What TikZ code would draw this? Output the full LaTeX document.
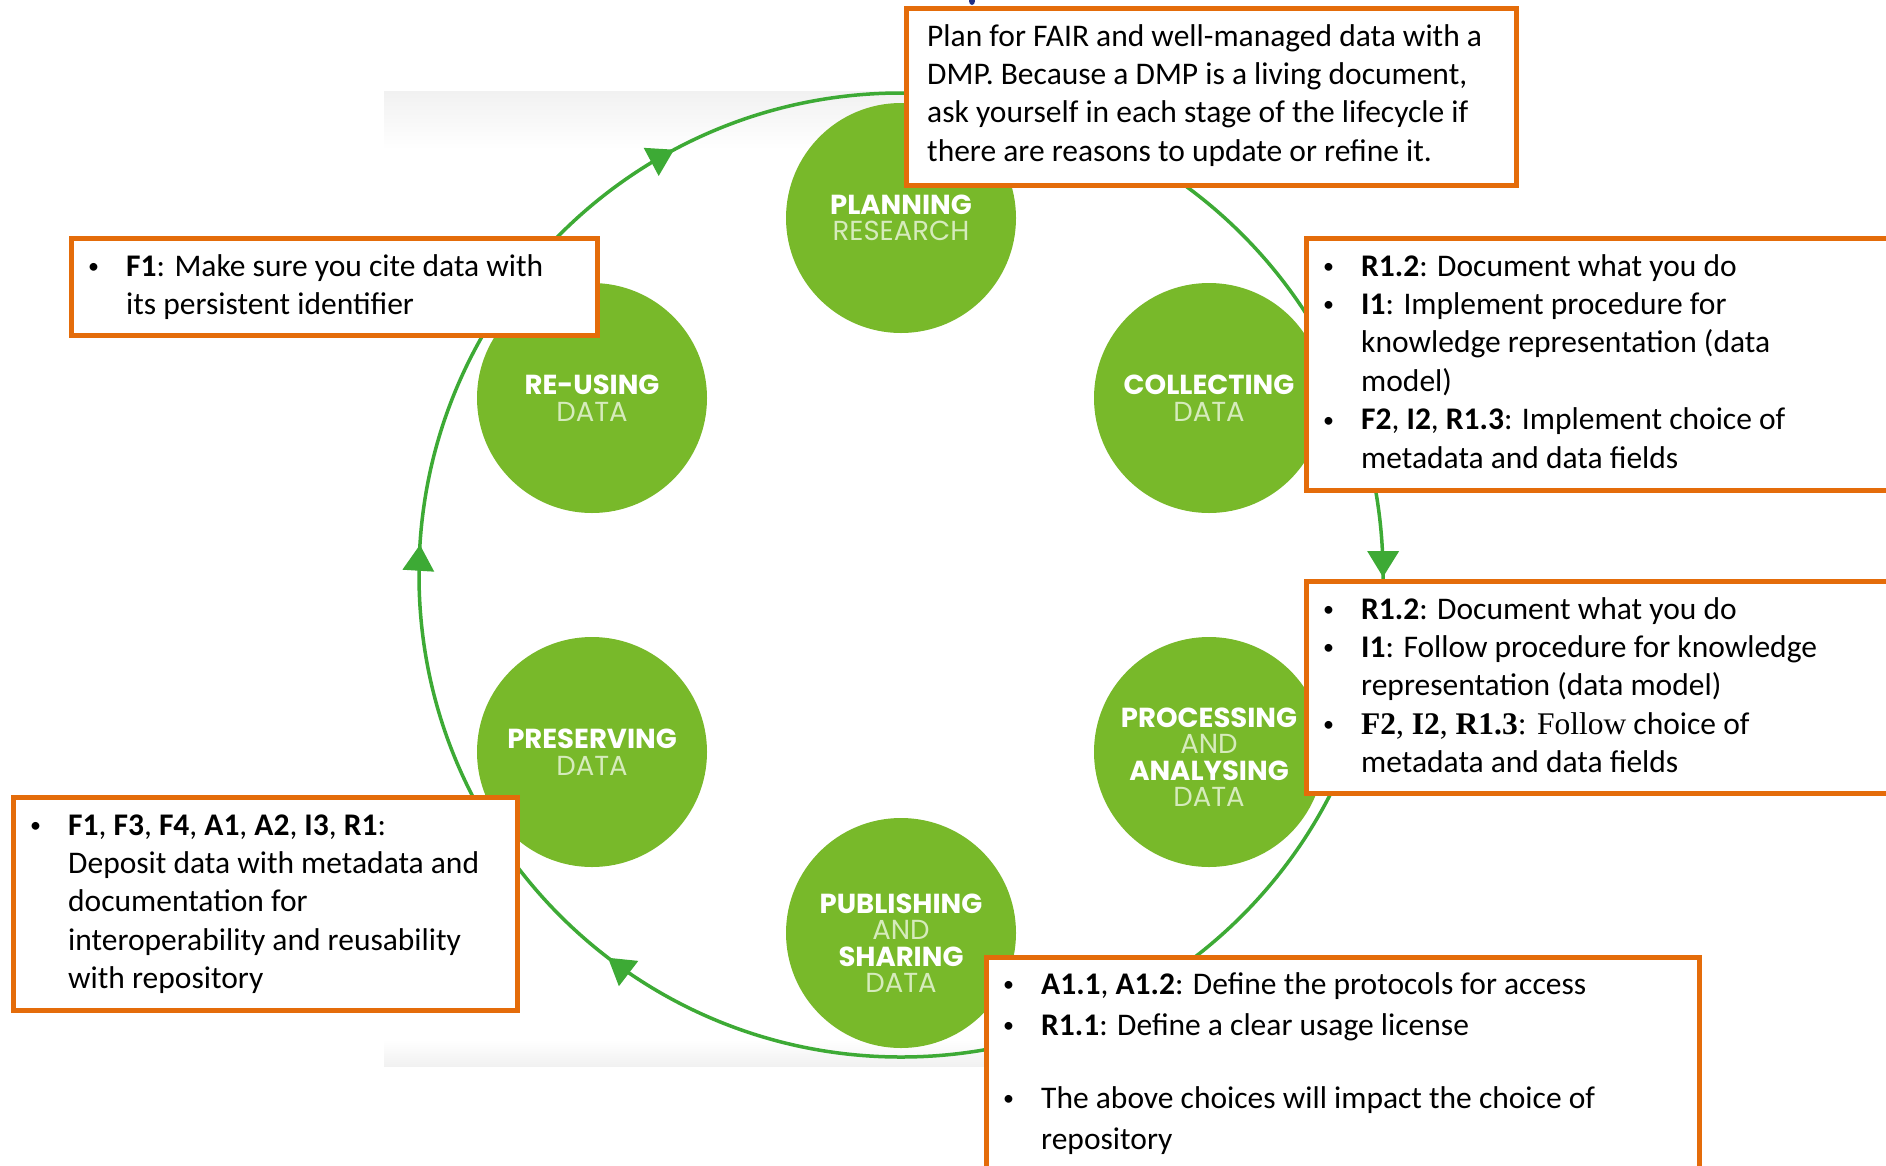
\documentclass[tikz,border=0pt]{standalone}
\usepackage{fontspec}
\setmainfont{Carlito}
\newfontfamily\timesfont{Liberation Serif}
\newfontfamily\stagefont{Poppins}
\usetikzlibrary{arrows.meta,decorations.markings}

\definecolor{boxorange}{HTML}{E46C0A}
\definecolor{stagegreen}{HTML}{78B92A}
\definecolor{stagepale}{HTML}{D6EBBC}
\definecolor{ringgreen}{HTML}{3DAA35}
\definecolor{bgshade}{HTML}{F1F1F1}
\definecolor{inkblue}{HTML}{1F2F86}

% bullet column of the note boxes
\newcommand\itembullet{\makebox[40pt][l]{\hspace{2pt}\raisebox{2.5pt}{\fontsize{22}{22}\selectfont\textbullet}}}

\begin{document}
\begin{tikzpicture}[x=1pt,y=-1pt,
  stage/.style={circle, fill=stagegreen, minimum size=230pt, inner sep=0pt},
  stagelabel/.style={align=center, text=white, inner sep=0pt,
    font=\stagefont\fontsize{27.5}{26.5}\selectfont},
  notebox/.style={draw=boxorange, line width=5pt, fill=white,
    anchor=north west, inner sep=0pt},
  notetext/.style={anchor=base west, inner sep=0pt,
    font=\fontsize{31.5}{38.4}\selectfont},
  ring/.style={draw=ringgreen, line width=3.5pt, postaction={decorate},
    decoration={markings,
      mark=at position 0.2507 with {\arrow{Triangle[width=31pt,length=26pt]}},
      mark=at position 0.604 with {\arrow{Triangle[width=31pt,length=26pt]}},
      mark=at position 0.760 with {\arrow{Triangle[width=31pt,length=26pt]}},
      mark=at position 0.922 with {\arrow{Triangle[width=31pt,length=26pt]}}}},
]
\clip (0,0) rectangle (1886,1165);
\fill[white] (0,0) rectangle (1886,1165);

% faint backdrop of the lifecycle graphic
\shade[top color=bgshade, bottom color=white] (384,91) rectangle (1418,150);
\shade[top color=white, bottom color=bgshade] (384,1040) rectangle (1418,1066);
\fill[inkblue] (972,1) ellipse (3pt and 4pt);

% lifecycle ring, running clockwise
\coordinate (hub) at (901,575);
\draw[ring] (901,93) arc[start angle=90, end angle=-270, radius=482pt];

% lifecycle stages
\node[stage] (plan) at (901,218) {};
\node[stage] (reuse) at (592,398) {};
\node[stage] (collect) at (1209,398) {};
\node[stage] (preserve) at (592,752) {};
\node[stage] (process) at (1209,752) {};
\node[stage] (publish) at (901,933) {};

\node[stagelabel] (plan-l) at (plan.center) {{\bfseries PLANNING}\\{\color{stagepale}RESEARCH}};
\node[stagelabel] (reuse-l) at (reuse.center) {{\bfseries RE-USING}\\{\color{stagepale}DATA}};
\node[stagelabel] (collect-l) at (collect.center) {{\bfseries COLLECTING}\\{\color{stagepale}DATA}};
\node[stagelabel] (preserve-l) at (preserve.center) {{\bfseries PRESERVING}\\{\color{stagepale}DATA}};
\node[stagelabel] (process-l) at ([yshift=-5pt]process.center) {{\bfseries PROCESSING}\\{\color{stagepale}AND}\\{\bfseries ANALYSING}\\{\color{stagepale}DATA}};
\node[stagelabel] (publish-l) at ([yshift=-10pt]publish.center) {{\bfseries PUBLISHING}\\{\color{stagepale}AND}\\{\bfseries SHARING}\\{\color{stagepale}DATA}};

% note boxes
\node[notebox, minimum width=610pt, minimum height=177pt] (planbox) at (904,6) {};
\node[notetext] (plantext) at (927,46) {\begin{tabular}[t]{@{}l@{}}
Plan for FAIR and well-managed data with a\\
DMP. Because a DMP is a living document,\\
ask yourself in each stage of the lifecycle if\\
there are reasons to update or refine it.
\end{tabular}};

\node[notebox, minimum width=526pt, minimum height=97pt] (reusebox) at (69,236) {};
\node[notetext] (reusetext) at (86,276) {\begin{tabular}[t]{@{}l@{}l@{}}
\itembullet & \textbf{F1}: Make sure you cite data with\\
 & its persistent identifier
\end{tabular}};

\node[notebox, minimum width=600pt, minimum height=252pt] (collectbox) at (1304,236) {};
\node[notetext] (collecttext) at (1321,276) {\begin{tabular}[t]{@{}l@{}l@{}}
\itembullet & \textbf{R1.2}: Document what you do\\
\itembullet & \textbf{I1}: Implement procedure for\\
 & knowledge representation (data\\
 & model)\\
\itembullet & \textbf{F2}, \textbf{I2}, \textbf{R1.3}: Implement choice of\\
 & metadata and data fields
\end{tabular}};

\node[notebox, minimum width=600pt, minimum height=212pt] (processbox) at (1304,579) {};
\node[notetext] (processtext) at (1321,619) {\begin{tabular}[t]{@{}l@{}l@{}}
\itembullet & \textbf{R1.2}: Document what you do\\
\itembullet & \textbf{I1}: Follow procedure for knowledge\\
 & representation (data model)\\
\itembullet & {\timesfont\textbf{F2}, \textbf{I2}, \textbf{R1.3}: Follow} choice of\\
 & metadata and data fields
\end{tabular}};

\node[notebox, minimum width=504pt, minimum height=213pt] (preservebox) at (11,795) {};
\node[notetext] (preservetext) at (28,835) {\begin{tabular}[t]{@{}l@{}l@{}}
\itembullet & \textbf{F1}, \textbf{F3}, \textbf{F4}, \textbf{A1}, \textbf{A2}, \textbf{I3}, \textbf{R1}:\\
 & Deposit data with metadata and\\
 & documentation for\\
 & interoperability and reusability\\
 & with repository
\end{tabular}};

\node[notebox, minimum width=713pt, minimum height=260pt] (publishbox) at (984,955) {};
\node[notetext, font=\fontsize{31.5}{41}\selectfont] (publishtext) at (1001,994) {\begin{tabular}[t]{@{}l@{}l@{}}
\itembullet & \textbf{A1.1}, \textbf{A1.2}: Define the protocols for access\\
\itembullet & \textbf{R1.1}: Define a clear usage license\\[32pt]
\itembullet & The above choices will impact the choice of\\
 & repository
\end{tabular}};
\end{tikzpicture}
\end{document}
